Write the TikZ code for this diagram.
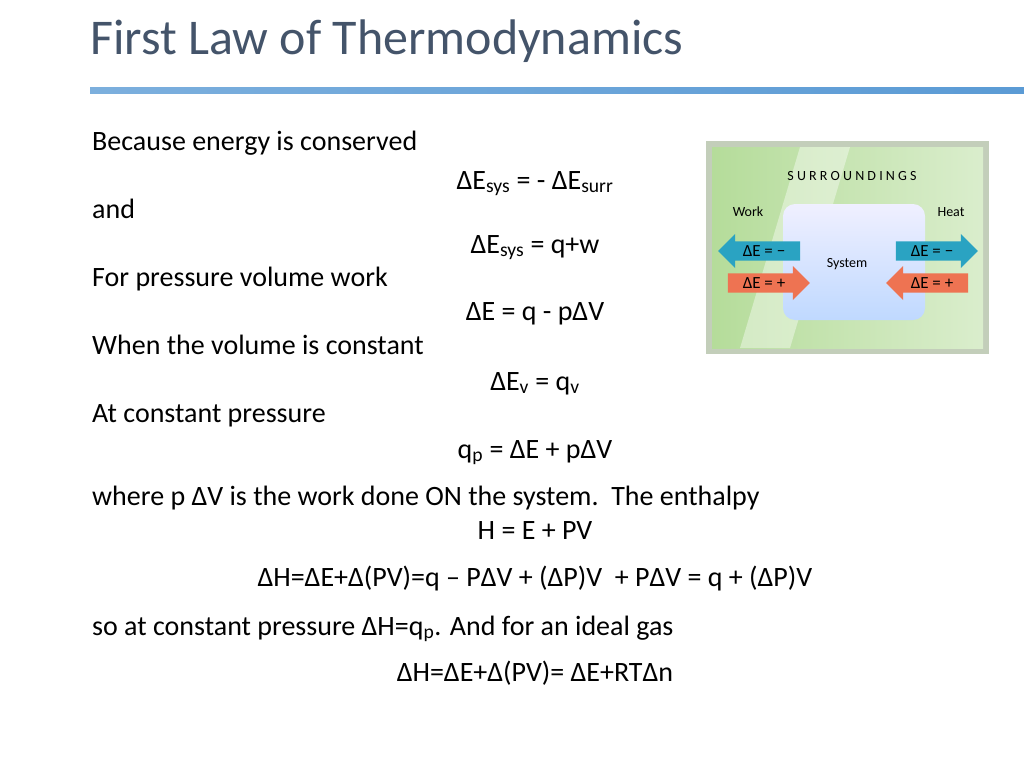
\documentclass[tikz,border=0pt]{standalone}
\usepackage{fontspec}
\setmainfont{Carlito}
\usetikzlibrary{shapes.arrows,positioning}
\definecolor{titlegray}{HTML}{44546A}
\definecolor{rulebl}{HTML}{5B9BD5}
\definecolor{boxgreen}{HTML}{B5DC9A}
\definecolor{arrcyan}{HTML}{2AA3C2}
\definecolor{arrred}{HTML}{EE7352}
\tikzset{every node/.style={inner sep=0pt, font=\fontsize{28}{32}\selectfont},
  txt/.style={anchor=base west},
  eqn/.style={anchor=base},
  small/.style={font=\fontsize{14}{16}\selectfont},
  arr/.style={single arrow, minimum height=82pt, minimum width=34pt, single arrow head extend=5pt,
    inner sep=1pt, font=\fontsize{17}{19}\selectfont}}

\begin{document}
\begin{tikzpicture}[x=1pt,y=-1pt]
  \useasboundingbox (0,0) rectangle (1024,768);
  \node[txt, text=titlegray, font=\fontsize{50}{56}\selectfont] (title) at (90,55) {First Law of Thermodynamics};
  \shade[left color=rulebl!80, right color=rulebl] (90,87) rectangle (1024,93);

  % text lines
  \node[txt] (l1) at (92,150) {Because energy is conserved};
  \node[eqn] (e1) at (535,189) {ΔE\textsubscript{sys} = - ΔE\textsubscript{surr}};
  \node[txt] (l2) at (92,218) {and};
  \node[eqn] (e2) at (535,253) {ΔE\textsubscript{sys} = q+w};
  \node[txt] (l3) at (92,286) {For pressure volume work};
  \node[eqn] (e3) at (535,320) {ΔE = q - pΔV};
  \node[txt] (l4) at (92,354) {When the volume is constant};
  \node[eqn] (e4) at (535,390) {ΔE\textsubscript{v} = q\textsubscript{v}};
  \node[txt] (l5) at (92,422) {At constant pressure};
  \node[eqn] (e5) at (535,458) {q\textsubscript{p} = ΔE + pΔV};
  \node[txt] (l6) at (92,505) {where p ΔV is the work done ON the system.\ \ The enthalpy};
  \node[eqn] (e6) at (535,539) {H = E + PV};
  \node[eqn] (e7) at (535,586) {ΔH=ΔE+Δ(PV)=q – PΔV + (ΔP)V\ \ + PΔV = q + (ΔP)V};
  \node[txt] (l7) at (92,635) {so at constant pressure ΔH=q\textsubscript{p}. And for an ideal gas};
  \node[eqn] (e8) at (535,681) {ΔH=ΔE+Δ(PV)= ΔE+RTΔn};

  % surroundings picture
  \fill[boxgreen!50!gray!60] (706,141) rectangle (989,354);
  \shade[left color=boxgreen, right color=boxgreen!50] (712,147) rectangle (983,348);
  \fill[white, opacity=0.4] (800,147) -- (850,147) -- (790,348) -- (740,348) -- cycle;
  \shade[rounded corners=12pt, top color=blue!6, bottom color=cyan!40!blue!25] (783,204) rectangle (925,320);
  \node[small] (surr) at (852,176) {S\ U\ R\ R\ O\ U\ N\ D\ I\ N\ G\ S};
  \node[small] (work) at (748,212) {Work};
  \node[small] (heat) at (951,212) {Heat};
  \node[small] (sys) at (847,264) {System};
  \node[arr, fill=arrcyan, shape border rotate=180] (wout) at (764,251) {ΔE = −};
  \node[arr, fill=arrred] (win) at (764,283) {ΔE = +};
  \node[arr, fill=arrcyan] (hout) at (932,251) {ΔE = −};
  \node[arr, fill=arrred, shape border rotate=180] (hin) at (932,283) {ΔE = +};
\end{tikzpicture}
\end{document}
